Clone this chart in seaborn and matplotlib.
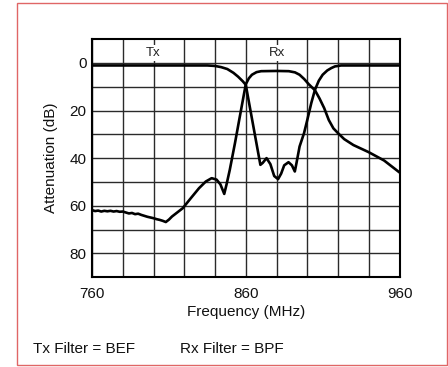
import matplotlib
matplotlib.use("Agg")
import matplotlib.pyplot as plt
from matplotlib.patches import Rectangle
import seaborn as sns
import pandas as pd

# Rx filter (BPF) response
rx_freq = [760, 762, 764, 766, 768, 770, 772, 774, 776, 778, 780, 782, 784, 786,
           788, 790, 792, 794, 796, 798, 800, 802, 804, 806, 808, 810, 812, 815,
           819, 824, 829.6, 834, 837.8, 841, 843.5, 846, 847.5, 849.6, 853, 856,
           858, 860, 862, 864, 867, 870, 880, 888, 892, 895, 898, 901, 905, 908,
           911, 914, 917, 920, 924, 930, 940, 950, 960]
rx_att = [61.8, 62.2, 62.0, 62.4, 62.1, 62.3, 62.1, 62.4, 62.2, 62.5, 62.4, 62.8,
          63.2, 63.0, 63.5, 63.3, 63.8, 64.2, 64.6, 64.9, 65.2, 65.6, 65.9, 66.3,
          66.8, 65.8, 64.5, 63.0, 61.0, 57.0, 52.6, 49.8, 48.4, 49.0, 51.0, 55.0,
          51.0, 44.9, 33.6, 23.0, 16.0, 9.0, 6.5, 5.0, 3.9, 3.5, 3.4, 3.5, 4.0,
          5.0, 6.8, 9.0, 11.5, 15.0, 19.0, 24.0, 27.5, 29.5, 32.0, 34.5, 37.5,
          41.0, 46.0]

# Tx filter (BEF) response
tx_freq = [760, 835, 840, 844, 848, 852, 855, 858, 860, 862, 865, 868, 869.5,
           871, 873.5, 876, 878.5, 881, 883, 885, 887.8, 890, 891.9, 893, 895,
           897.9, 900, 902.6, 905, 907.5, 910, 913, 915.6, 918, 922, 960]
tx_att = [1.1, 1.1, 1.3, 1.8, 2.6, 4.2, 5.8, 7.7, 9.2, 16.3, 26.9, 37.5, 42.8,
          42.0, 40.0, 42.5, 47.5, 48.8, 46.5, 43.0, 41.7, 43.0, 45.6, 42.0, 35.1,
          29.5, 24.0, 16.9, 11.3, 7.5, 5.0, 3.2, 2.2, 1.5, 1.1, 1.1]

x_ticks = list(range(760, 961, 20))
x_labels = ["760", "", "", "", "", "860", "", "", "", "", "960"]
y_ticks = list(range(0, 90, 10))
y_labels = ["0", "", "20", "", "40", "", "60", "", "80"]

band_labels = ["Tx", "Rx"]
band_pos = [800, 880]

sns.set_style("white")
plt.rcParams["font.family"] = ["Liberation Sans", "DejaVu Sans"]

fig = plt.figure(figsize=(4.48, 3.67), dpi=100)
ax = fig.add_axes([0.2054, 0.2444, 0.6864, 0.6493])

rx = pd.DataFrame({"freq": rx_freq, "att": rx_att})
tx = pd.DataFrame({"freq": tx_freq, "att": tx_att})
sns.lineplot(data=rx, x="freq", y="att", ax=ax, color="black", lw=1.9,
             estimator=None, sort=False, zorder=4)
sns.lineplot(data=tx, x="freq", y="att", ax=ax, color="black", lw=1.9,
             estimator=None, sort=False, zorder=4)

ax.set_xlim(760, 960)
ax.set_ylim(90, -10)
ax.set_xticks(x_ticks)
ax.set_xticklabels(x_labels)
ax.set_yticks(y_ticks)
ax.set_yticklabels(y_labels)
ax.tick_params(length=0, labelsize=11, colors="#111111")
ax.tick_params(axis="x", pad=7)
ax.tick_params(axis="y", pad=4)
ax.grid(True, color="#2a2a2a", lw=1.0)
for s in ax.spines.values():
    s.set_color("black")
    s.set_linewidth(1.5)

for lab, x in zip(band_labels, band_pos):
    ax.text(x, -4, lab, ha="center", va="center", fontsize=9.5, color="#222222",
            zorder=5, bbox=dict(facecolor="white", edgecolor="none", pad=1.5))

ax.set_xlabel("Frequency (MHz)", fontsize=11, labelpad=3, color="#111111")
ax.set_ylabel("Attenuation (dB)", fontsize=11, labelpad=8, color="#111111")

fig.text(33 / 448, 1 - 349 / 367, "Tx Filter = BEF", fontsize=11, va="center",
         color="#111111")
fig.text(180 / 448, 1 - 349 / 367, "Rx Filter = BPF", fontsize=11, va="center",
         color="#111111")

fig.patches.append(Rectangle((17.3 / 448, 2 / 367), 429.4 / 448, 361.7 / 367,
                             transform=fig.transFigure, fill=False,
                             ec="#e06666", lw=1.0))

fig.savefig("out.png", dpi=100)
